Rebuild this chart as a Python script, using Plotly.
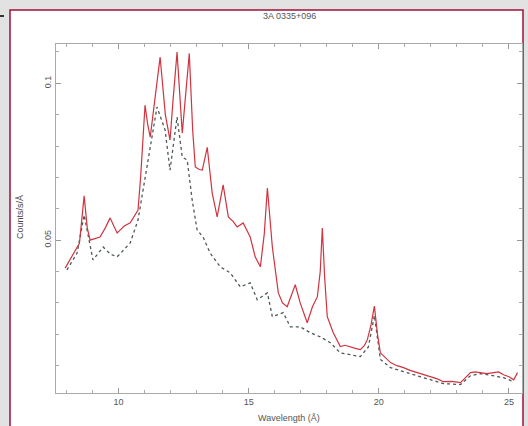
import plotly.graph_objects as go

# Red spectrum (observed, line)
red_wave = [7.95, 8.15, 8.33, 8.50, 8.68, 8.80, 8.91, 9.10, 9.29, 9.50, 9.68, 9.82, 9.95, 10.10,
            10.22, 10.45, 10.60, 10.75, 10.85, 11.02, 11.12, 11.22, 11.40, 11.60, 11.80, 11.98,
            12.10, 12.25, 12.45, 12.60, 12.72, 12.85, 12.95, 13.10, 13.22, 13.41, 13.60, 13.79,
            14.02, 14.22, 14.40, 14.56, 14.79, 15.06, 15.25, 15.45, 15.60, 15.72, 15.91, 16.14,
            16.30, 16.48, 16.65, 16.79, 16.98, 17.25, 17.45, 17.64, 17.75, 17.83, 17.92, 18.02,
            18.25, 18.52, 18.70, 18.91, 19.10, 19.29, 19.45, 19.56, 19.70, 19.83, 19.95, 20.06,
            20.25, 20.45, 20.70, 20.95, 21.20, 21.48, 21.75, 21.98, 22.25, 22.48, 22.80, 23.14,
            23.35, 23.52, 23.70, 23.91, 24.15, 24.41, 24.60, 24.79, 25.00, 25.18, 25.33]
red_flux = [0.0411, 0.0440, 0.0469, 0.0490, 0.0641, 0.0540, 0.0500, 0.0505, 0.0510, 0.0540, 0.0571,
            0.0545, 0.0523, 0.0535, 0.0545, 0.0555, 0.0575, 0.0596, 0.0700, 0.0930, 0.0870, 0.0828,
            0.0950, 0.1083, 0.0900, 0.0819, 0.0950, 0.1099, 0.0841, 0.0980, 0.1095, 0.0850, 0.0733,
            0.0725, 0.0723, 0.0796, 0.0650, 0.0574, 0.0676, 0.0574, 0.0560, 0.0542, 0.0555, 0.0510,
            0.0447, 0.0415, 0.0520, 0.0666, 0.0478, 0.0332, 0.0300, 0.0288, 0.0330, 0.0358, 0.0300,
            0.0237, 0.0288, 0.0320, 0.0400, 0.0539, 0.0380, 0.0256, 0.0205, 0.0161, 0.0165, 0.0161,
            0.0155, 0.0151, 0.0165, 0.0183, 0.0230, 0.0290, 0.0200, 0.0141, 0.0125, 0.0110, 0.0100,
            0.0094, 0.0085, 0.0078, 0.0072, 0.0065, 0.0058, 0.0049, 0.0050, 0.0046, 0.0065, 0.0078,
            0.0080, 0.0078, 0.0075, 0.0078, 0.0080, 0.0071, 0.0065, 0.0055, 0.0078]

# Gray spectrum (second data set, dashed)
gray_wave = [8.02, 8.41, 8.68, 9.02, 9.41, 9.70, 9.95, 10.20, 10.45, 10.75, 11.10, 11.48, 11.79,
             11.98, 12.25, 12.45, 12.64, 12.83, 13.02, 13.25, 13.52, 13.91, 14.29, 14.68, 15.06,
             15.33, 15.72, 15.91, 16.33, 16.60, 16.98, 17.37, 17.75, 18.14, 18.52, 18.91, 19.29,
             19.60, 19.83, 20.06, 20.45, 20.95, 21.48, 21.98, 22.48, 23.14, 23.52, 23.91, 24.41,
             24.79, 25.18]
gray_flux = [0.0405, 0.0459, 0.0580, 0.0437, 0.0478, 0.0455, 0.0447, 0.0470, 0.0491, 0.0564, 0.0733,
             0.0924, 0.0851, 0.0723, 0.0892, 0.0765, 0.0755, 0.0628, 0.0533, 0.0510, 0.0459, 0.0415,
             0.0396, 0.0351, 0.0364, 0.0310, 0.0332, 0.0256, 0.0269, 0.0224, 0.0224, 0.0205, 0.0192,
             0.0173, 0.0141, 0.0135, 0.0129, 0.0160, 0.0260, 0.0120, 0.0094, 0.0081, 0.0068, 0.0055,
             0.0043, 0.0040, 0.0068, 0.0075, 0.0068, 0.0062, 0.0049]

title_text = "3A 0335+096"
x_title = "Wavelength (Å)"
y_title = "Counts/s/Å"

W, H = 528, 426
L, R, T, B = 56, 522, 44, 393
pw, ph = R - L, B - T

def px(x):
    return (x - L) / pw

def py(y):
    return (B - y) / ph

fig = go.Figure()
fig.add_trace(go.Scatter(x=gray_wave, y=gray_flux, mode="lines",
                         line=dict(color="#4d5a52", width=1.3, dash="3px,3px"), showlegend=False))
fig.add_trace(go.Scatter(x=red_wave, y=red_flux, mode="lines",
                         line=dict(color="#d0343f", width=1.2), showlegend=False))

font = dict(family="Liberation Sans, Arial, sans-serif", size=9, color="#555555")

fig.update_layout(
    width=W, height=H,
    margin=dict(l=L, r=W - R, t=T, b=H - B, pad=0, autoexpand=False),
    paper_bgcolor="#e2e2e2",
    plot_bgcolor="#ffffff",
    font=font,
    showlegend=False,
    xaxis=dict(range=[7.6, 25.5], dtick=5, tick0=0, ticks="inside", ticklen=5, tickcolor="#999999",
               showline=True, linecolor="#aaaaaa", linewidth=1, mirror="ticks", showgrid=False,
               zeroline=False, tickfont=font, automargin=False,
               minor=dict(dtick=1, ticks="inside", ticklen=3, tickcolor="#aaaaaa")),
    yaxis=dict(range=[0.0013, 0.1125], dtick=0.05, tick0=0, ticks="inside", ticklen=5,
               tickcolor="#999999", showline=True, linecolor="#aaaaaa", linewidth=1, mirror="ticks",
               showgrid=False, zeroline=False, tickangle=-90, tickfont=font, automargin=False,
               minor=dict(dtick=0.01, ticks="inside", ticklen=3, tickcolor="#aaaaaa")),
    shapes=[
        dict(type="rect", xref="paper", yref="paper", x0=px(10), x1=px(523), y0=py(440), y1=py(10),
             line=dict(color="#a0103a", width=1.5), fillcolor="#ffffff", layer="below"),
        dict(type="line", xref="paper", yref="paper", x0=px(0), x1=px(4), y0=py(16), y1=py(16),
             line=dict(color="#333333", width=2)),
    ],
    annotations=[
        dict(text=title_text, xref="paper", yref="paper", x=0.5, y=py(16), showarrow=False,
             xanchor="center", yanchor="middle", font=font),
        dict(text=x_title, xref="paper", yref="paper", x=0.5, y=py(418), showarrow=False,
             xanchor="center", yanchor="middle", font=font),
        dict(text=y_title, xref="paper", yref="paper", x=px(20), y=py(217), showarrow=False,
             xanchor="center", yanchor="middle", textangle=-90,
             font=dict(family="Liberation Sans, Arial, sans-serif", size=9, color="#444444")),
    ],
)

fig.write_html(
    "out.html",
    config={"displayModeBar": False},
    post_script="document.body.style.margin='0';document.body.style.padding='0';"
                "document.body.style.background='#e2e2e2';document.body.style.overflow='hidden';",
)
